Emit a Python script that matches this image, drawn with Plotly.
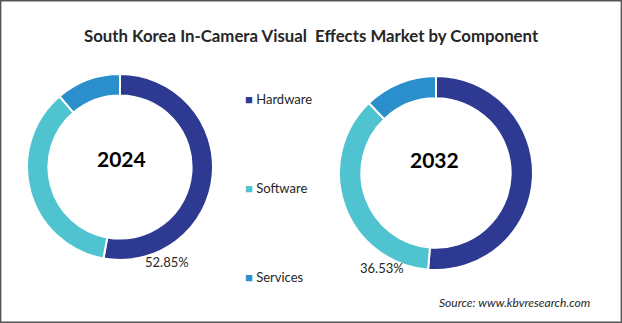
import plotly.graph_objects as go

W, H = 622, 323
components = ["Hardware", "Software", "Services"]
colors = ["#2E3A92", "#4FC4D0", "#2A8FCC"]
years = ["2024", "2032"]
values_2024 = [52.85, 35.90, 11.25]
values_2032 = [51.30, 36.53, 12.17]
shown_idx = [0, 1]  # which component's share is labelled in each year

def px_x(x):
    return x / W

def px_y(y):
    return 1 - y / H

fig = go.Figure()

pies = [
    (values_2024, (27, 213), (74, 260)),
    (values_2032, (339, 533), (76, 270)),
]
for vals, (x0, x1), (y0, y1) in pies:
    fig.add_trace(go.Pie(
        labels=components, values=vals, hole=0.77, sort=False,
        direction="clockwise", rotation=0, textinfo="none",
        marker=dict(colors=colors, line=dict(color="white", width=2)),
        domain=dict(x=[px_x(x0), px_x(x1)], y=[px_y(y1), px_y(y0)]),
        showlegend=False, hoverinfo="label+percent",
    ))

font_main = "Lato"
ann = []

def add(x, y, text, size, xanchor="center", color="#262626"):
    ann.append(dict(x=px_x(x), y=px_y(y), xref="paper", yref="paper",
                    xanchor=xanchor, yanchor="middle", text=text,
                    showarrow=False, font=dict(family=font_main, size=size, color=color)))

add(311, 35, "<b>South Korea In-Camera Visual  Effects Market by Component</b>", 16.8)
for yr, (cx, cy) in zip(years, [(121, 158), (434, 160)]):
    add(cx, cy, f"<b>{yr}</b>", 21, color="black")
for vals, idx, (lx, ly) in zip([values_2024, values_2032], shown_idx, [(167, 262), (382, 268)]):
    add(lx, ly, f"{vals[idx]:.2f}%", 13)
for comp, col, ly in zip(components, colors, [99, 188, 277]):
    add(243, ly, f"<span style='color:{col}'>■</span> {comp}", 13, xanchor="left")
add(592, 302, "<i>Source: www.kbvresearch.com</i>", 12, xanchor="right")

fig.update_layout(
    width=W, height=H, margin=dict(l=0, r=0, t=0, b=0),
    paper_bgcolor="white", plot_bgcolor="white",
    annotations=ann,
    shapes=[dict(type="rect", xref="paper", yref="paper", x0=0.001, y0=0.002,
                 x1=0.999, y1=0.998, line=dict(color="#555555", width=1.5))],
)
fig.write_html("out.html")
